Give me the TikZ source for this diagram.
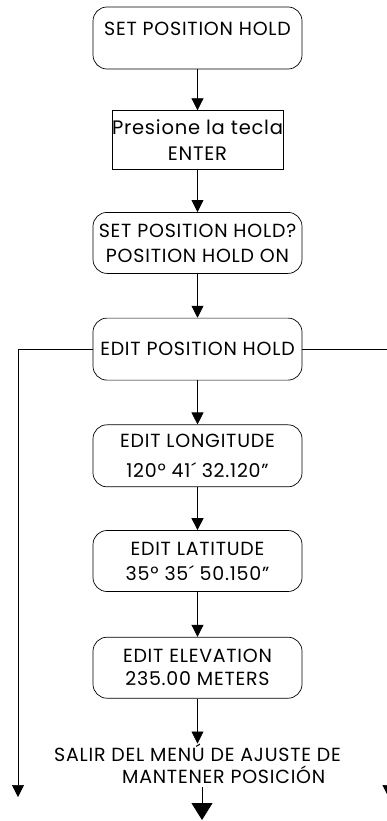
\documentclass[tikz,border=0pt]{standalone}
\usepackage{fontspec}
\setmainfont{Poppins}[LetterSpace=4]
\usetikzlibrary{positioning,arrows.meta}

\tikzset{
  menu/.style={draw, rounded corners=14pt, line width=0.7pt, minimum width=209pt,
    minimum height=61pt, align=center, inner sep=0pt, font=\fontsize{19}{25}\selectfont},
  keybox/.style={draw, line width=0.7pt, minimum width=171pt, minimum height=59pt,
    align=center, inner sep=0pt, font=\fontsize{19.5}{26}\selectfont},
  flow/.style={line width=0.7pt, -{Triangle[width=12pt,length=12pt]}},
  bigflow/.style={line width=0.9pt, -{Triangle[width=21pt,length=17pt]}}
}

\begin{document}
\begin{tikzpicture}[x=1pt, y=-1pt]
			\useasboundingbox (0,0) rectangle (386,821);
			% Menu boxes
			\node (setHold) [menu, minimum height=62pt] at (197.5,38) {SET POSITION HOLD\\[-6pt]\mbox{}};
			\node (enter) [keybox, below=41pt of setHold] {Presione la tecla\\ENTER};
			\node (holdOn) [menu, below=42pt of enter] {SET POSITION HOLD?\\POSITION HOLD ON};
			\node (editHold) [menu, minimum height=62pt, below=44pt of holdOn] {EDIT POSITION HOLD};
			\node (editLon) [menu, minimum height=62pt, below=44pt of editHold] {EDIT LONGITUDE\\[5pt]120º 41´ 32.120"};
			\node (editLat) [menu, below=43pt of editLon] {EDIT LATITUDE\\35º 35´ 50.150"};
			\node (editElev) [menu, below=45pt of editLat] {EDIT ELEVATION\\[-2pt]235.00 METERS};
			% Exit text
			\node (salir) [below=45pt of editElev, align=left, inner sep=0pt,
			  font=\fontsize{19}{22}\selectfont] {SALIR DEL MENÚ DE AJUSTE DE\\\hspace*{68pt}MANTENER POSICIÓN};
			% Arrows down the menu
			\draw[flow] (setHold) -- (enter);
			\draw[flow] (enter) -- (holdOn);
			\draw[flow] (holdOn) -- (editHold);
			\draw[flow] (editHold) -- (editLon);
			\draw[flow] (editLon) -- (editLat);
			\draw[flow] (editLat) -- (editElev);
			\draw[flow] (editElev) -- (salir.north -| editElev.south);
			% Side branches
			\coordinate (leftEnd) at (18,797);
			\coordinate (rightEnd) at (388.5,797);
			\draw[flow] (editHold.west) -| (leftEnd);
			\draw[flow] (editHold.east) -| (rightEnd);
			% Exit arrow
			\coordinate (exitTop) at (202,787);
			\coordinate (exitTip) at (202,820);
			\draw[bigflow] (exitTop) -- (exitTip);
		\end{tikzpicture}
\end{document}
